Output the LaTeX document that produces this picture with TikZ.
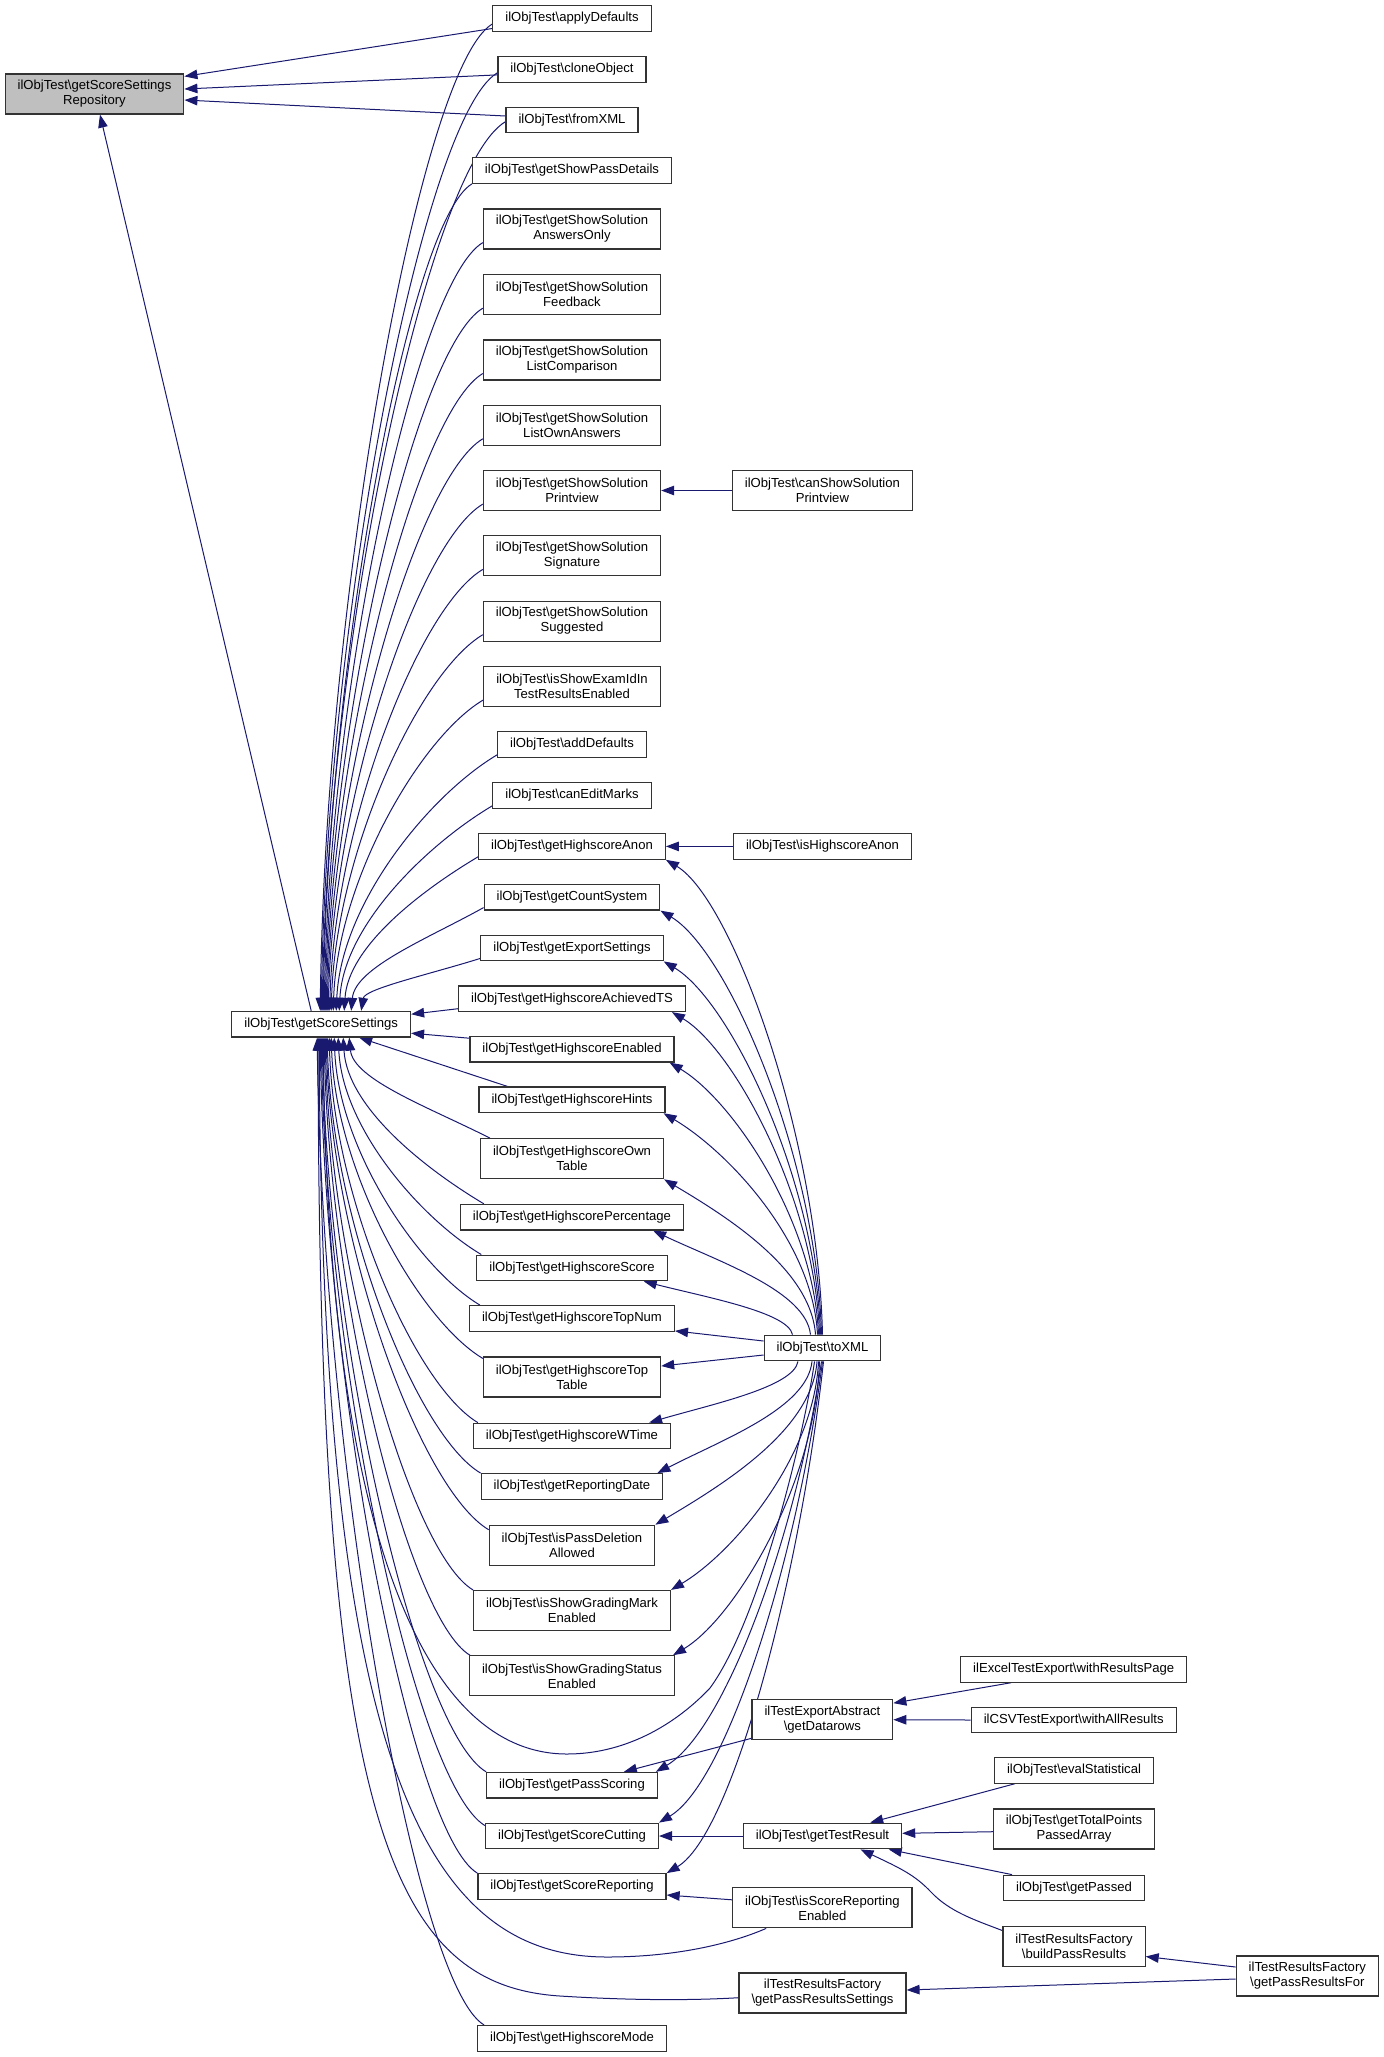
\documentclass[tikz,border=0pt]{standalone}
\usepackage{fontspec}
\setmainfont{Liberation Sans}
\usetikzlibrary{arrows.meta,calc,backgrounds}
\definecolor{edgeblue}{HTML}{191970}
\definecolor{repgray}{HTML}{BFBFBF}
\newcommand\BSL{\textbackslash}
\newcommand\cedge[4][0.03]{\draw[edge,#4] let \p1=(#2), \p2=(#3) in (\p1) .. controls ({\x1+#1*((\x2)-(\x1))},{\y1+0.42*((\y2)-(\y1))}) and ({\x2-0.42*((\x2)-(\x1))},{\y2-min(0.25*abs((\x2)-(\x1))/max(abs((\y2)-(\y1)),1),0.3)*((\y2)-(\y1))}) .. (\p2);}
\tikzset{
  box/.style={draw=black!80, line width=1.2pt, fill=white, inner xsep=12.5pt, inner ysep=2pt,
    minimum height=25.6pt, font=\fontsize{13.1}{15}\selectfont, align=center},
  box2/.style={box, minimum height=40pt},
  edge/.style={draw=edgeblue, line width=1pt},
  >={Triangle[length=13pt,width=9.5pt]}
}
\begin{document}
\begin{tikzpicture}[x=1pt,y=-1pt]
\useasboundingbox (0,0) rectangle (1384,2057);
% left
\node[box2,fill=repgray] (rep) at (94.5,94) {ilObjTest\BSL getScoreSettings\\Repository};
\node[box] (gs) at (321.2,1024.2) {ilObjTest\BSL getScoreSettings};
% column 2
\node[box]  (n1)  at (572,18.5)  {ilObjTest\BSL applyDefaults};
\node[box]  (n2)  at (572,69.4)  {ilObjTest\BSL cloneObject};
\node[box]  (n3)  at (572,120)   {ilObjTest\BSL fromXML};
\node[box]  (n4)  at (572,170.5) {ilObjTest\BSL getShowPassDetails};
\node[box2] (n5)  at (572,229)   {ilObjTest\BSL getShowSolution\\AnswersOnly};
\node[box2] (n6)  at (572,294.6) {ilObjTest\BSL getShowSolution\\Feedback};
\node[box2] (n7)  at (572,359.9) {ilObjTest\BSL getShowSolution\\ListComparison};
\node[box2] (n8)  at (572,425.2) {ilObjTest\BSL getShowSolution\\ListOwnAnswers};
\node[box2] (n9)  at (572,490.5) {ilObjTest\BSL getShowSolution\\Printview};
\node[box2] (n10) at (572,555.8) {ilObjTest\BSL getShowSolution\\Signature};
\node[box2] (n11) at (572,621.1) {ilObjTest\BSL getShowSolution\\Suggested};
\node[box2] (n12) at (572,686.4) {ilObjTest\BSL isShowExamIdIn\\TestResultsEnabled};
\node[box]  (n13) at (572,744.5) {ilObjTest\BSL addDefaults};
\node[box]  (n14) at (572,795.4) {ilObjTest\BSL canEditMarks};
\node[box]  (n15) at (572,846.4) {ilObjTest\BSL getHighscoreAnon};
\node[box]  (n16) at (572,897.2) {ilObjTest\BSL getCountSystem};
\node[box]  (n17) at (572,948)   {ilObjTest\BSL getExportSettings};
\node[box]  (n18) at (572,998.7) {ilObjTest\BSL getHighscoreAchievedTS};
\node[box]  (n19) at (572,1049.2){ilObjTest\BSL getHighscoreEnabled};
\node[box]  (n20) at (572,1099.8){ilObjTest\BSL getHighscoreHints};
\node[box2] (n21) at (572,1158.7){ilObjTest\BSL getHighscoreOwn\\Table};
\node[box]  (n22) at (572,1217.2){ilObjTest\BSL getHighscorePercentage};
\node[box]  (n23) at (572,1267.9){ilObjTest\BSL getHighscoreScore};
\node[box]  (n24) at (572,1318.5){ilObjTest\BSL getHighscoreTopNum};
\node[box2] (n25) at (572,1377)  {ilObjTest\BSL getHighscoreTop\\Table};
\node[box]  (n26) at (572,1436)  {ilObjTest\BSL getHighscoreWTime};
\node[box]  (n27) at (572,1486.5){ilObjTest\BSL getReportingDate};
\node[box2] (n28) at (572,1545.3){ilObjTest\BSL isPassDeletion\\Allowed};
\node[box2] (n29) at (572,1610.5){ilObjTest\BSL isShowGradingMark\\Enabled};
\node[box2] (n30) at (572,1675.8){ilObjTest\BSL isShowGradingStatus\\Enabled};
\node[box]  (n31) at (572,1785.2){ilObjTest\BSL getPassScoring};
\node[box]  (n32) at (572,1836)  {ilObjTest\BSL getScoreCutting};
\node[box]  (n33) at (572,1886.5){ilObjTest\BSL getScoreReporting};
\node[box]  (n34) at (572,2038.3){ilObjTest\BSL getHighscoreMode};
% column 3
\node[box2] (csp) at (822.4,490.5) {ilObjTest\BSL canShowSolution\\Printview};
\node[box]  (iha) at (822.5,846.4) {ilObjTest\BSL isHighscoreAnon};
\node[box]  (toxml) at (822.5,1348) {ilObjTest\BSL toXML};
\node[box2] (gdr) at (822.4,1719.7) {ilTestExportAbstract\\\BSL getDatarows};
\node[box]  (gtr) at (822.5,1836) {ilObjTest\BSL getTestResult};
\node[box2] (isr) at (822.4,1907.8) {ilObjTest\BSL isScoreReporting\\Enabled};
\node[box2] (prs) at (822.5,1993) {ilTestResultsFactory\\\BSL getPassResultsSettings};
% column 4
\node[box]  (wrp) at (1073.7,1669.3) {ilExcelTestExport\BSL withResultsPage};
\node[box]  (war) at (1073.7,1720) {ilCSVTestExport\BSL withAllResults};
\node[box]  (evs) at (1074,1770.3) {ilObjTest\BSL evalStatistical};
\node[box2] (gtp) at (1074,1829) {ilObjTest\BSL getTotalPoints\\PassedArray};
\node[box]  (gps) at (1074,1888) {ilObjTest\BSL getPassed};
\node[box2] (bpr) at (1074,1946.5) {ilTestResultsFactory\\\BSL buildPassResults};
% column 5
\node[box2] (prf) at (1307.3,1976) {ilTestResultsFactory\\\BSL getPassResultsFor};

\begin{pgfonlayer}{background}
% to repository
\draw[edge,<-] ($(rep.north east)+(0,3)$) -- ($(n1.west)+(0,10)$);
\draw[edge,<-] ($(rep.east)+(0,-5)$) -- ($(n2.west)+(0,5.5)$);
\draw[edge,<-] ($(rep.east)+(0,6)$) -- ($(n3.west)+(0,-4)$);
\draw[edge,<-] ($(rep.south)+(5.5,0)$) -- ($(gs.north)+(-10,0)$);
% upper callers of getScoreSettings
\cedge{$(gs.north)+(-1,0)$}{$(n1.west)+(0,5.5)$}{<-}
\cedge{$(gs.north)+(0,0)$}{$(n2.west)+(0,3.4)$}{<-}
\cedge{$(gs.north)+(1,0)$}{$(n3.west)+(0,1.7)$}{<-}
\cedge{$(gs.north)+(2,0)$}{n4.south west}{<-}
\cedge{$(gs.north)+(3,0)$}{$(n5.south west)+(0,-7)$}{<-}
\cedge{$(gs.north)+(4,0)$}{$(n6.south west)+(0,-7)$}{<-}
\cedge{$(gs.north)+(5,0)$}{$(n7.south west)+(0,-7)$}{<-}
\cedge{$(gs.north)+(6,0)$}{$(n8.south west)+(0,-7)$}{<-}
\cedge{$(gs.north)+(7,0)$}{$(n9.south west)+(0,-7)$}{<-}
\cedge{$(gs.north)+(8.5,0)$}{$(n10.south west)+(0,-7)$}{<-}
\cedge{$(gs.north)+(10,0)$}{$(n11.south west)+(0,-7)$}{<-}
\cedge{$(gs.north)+(12,0)$}{$(n12.south west)+(0,-7)$}{<-}
\cedge{$(gs.north)+(15,0)$}{$(n13.south west)+(0,-3)$}{<-}
\cedge{$(gs.north)+(18,0)$}{$(n14.south west)+(0,-3)$}{<-}
\cedge{$(gs.north)+(23,0)$}{$(n15.south west)+(0,-3)$}{<-}
\cedge{$(gs.north)+(30,0)$}{$(n16.south west)+(0,-3)$}{<-}
\cedge{$(gs.north)+(40,0)$}{$(n17.south west)+(0,-3)$}{<-}
\draw[edge,<-] ($(gs.east)+(0,-10)$) -- ($(n18.west)+(0,10)$);
\draw[edge,<-] ($(gs.east)+(0,9)$) -- ($(n19.west)+(0,-11)$);
% lower callers of getScoreSettings
\draw[edge,<-] ($(gs.south)+(38,0)$) -- ($(n20.north west)+(29,0)$);
\cedge{$(gs.south)+(28,0)$}{$(n21.north west)+(10,0)$}{<-}
\cedge{$(gs.south)+(22,0)$}{$(n22.north west)+(24,0)$}{<-}
\cedge{$(gs.south)+(17,0)$}{$(n23.north west)+(5,0)$}{<-}
\cedge{$(gs.south)+(13,0)$}{$(n24.north west)+(11,0)$}{<-}
\cedge{$(gs.south)+(10,0)$}{$(n25.north west)+(0,2)$}{<-}
\cedge{$(gs.south)+(8,0)$}{$(n26.north west)+(5,0)$}{<-}
\cedge{$(gs.south)+(6,0)$}{n27.north west}{<-}
\cedge{$(gs.south)+(5,0)$}{$(n28.north west)+(0,5)$}{<-}
\cedge{$(gs.south)+(4,0)$}{n29.north west}{<-}
\cedge{$(gs.south)+(3,0)$}{$(n30.north west)+(1,0)$}{<-}
\cedge{$(gs.south)+(1,0)$}{n31.north west}{<-}
\cedge{$(gs.south)+(0,0)$}{$(n32.north west)+(0,3)$}{<-}
\cedge{$(gs.south)+(-1,0)$}{n33.north west}{<-}
\cedge{$(gs.south)+(-4,0)$}{$(n34.north west)+(7,0)$}{<-}
\draw[edge,<-] ($(gs.south)+(2,0)$) .. controls (328,1520) and (420,1754) .. (567,1754)
  .. controls (630,1754) and (680,1720) .. (710,1688)
  .. controls (760,1620) and (805,1430) .. ($(toxml.south)+(-8,0)$);
\draw[edge,<-] ($(gs.south)+(-2,0)$) .. controls (322,1750) and (420,1957) .. (607,1957)
  .. controls (680,1957) and (735,1942) .. ($(isr.south west)+(34,0)$);
\draw[edge,<-] ($(gs.south)+(-3,0)$) .. controls (318,1820) and (390,1985) .. (560,1996)
  .. controls (640,2001) and (700,2000) .. ($(prs.west)+(0,4.7)$);
% toXML upper
\cedge{$(toxml.north)+(0,0)$}{n15.south east}{->}
\cedge{$(toxml.north)+(-1,0)$}{n16.south east}{->}
\cedge{$(toxml.north)+(-2,0)$}{n17.south east}{->}
\cedge{$(toxml.north)+(-3,0)$}{$(n18.south east)+(-14,0)$}{->}
\cedge{$(toxml.north)+(-4,0)$}{$(n19.south east)+(-5,0)$}{->}
\cedge{$(toxml.north)+(-5,0)$}{$(n20.south east)+(-2,0)$}{->}
\cedge{$(toxml.north)+(-7,0)$}{n21.south east}{->}
\cedge{$(toxml.north)+(-12,0)$}{$(n22.south east)+(-31,0)$}{->}
\cedge{$(toxml.north)+(-30,0)$}{$(n23.south east)+(-24,0)$}{->}
\draw[edge,->] ($(toxml.west)+(0,-7)$) -- ($(n24.south east)+(0,-1)$);
\draw[edge,->] ($(toxml.west)+(0,7)$) -- ($(n25.east)+(0,-11)$);
% toXML lower
\cedge{$(toxml.south)+(-24.5,0)$}{$(n26.north east)+(-22,0)$}{->}
\cedge{$(toxml.south)+(-10.5,0)$}{$(n27.north east)+(-6,0)$}{->}
\cedge{$(toxml.south)+(-5.5,0)$}{n28.north east}{->}
\cedge{$(toxml.south)+(-4,0)$}{n29.north east}{->}
\cedge{$(toxml.south)+(-3,0)$}{$(n30.north east)+(-2,0)$}{->}
\cedge[0.15]{$(toxml.south)+(-1,0)$}{$(n31.north east)+(-2,0)$}{->}
\cedge[0.15]{$(toxml.south)+(0,0)$}{n32.north east}{->}
\cedge[0.15]{$(toxml.south)+(1,0)$}{n33.north east}{->}
% others
\draw[edge,<-] (n9.east) -- (csp.west);
\draw[edge,<-] (n15.east) -- (iha.west);
\draw[edge,<-] ($(gdr.north east)+(0,4)$) -- ($(wrp.south west)+(51,0)$);
\draw[edge,<-] (gdr.east) -- (war.west);
\draw[edge,<-] ($(n31.north east)+(-34,0)$) -- ($(gdr.south west)+(0,-2)$);
\draw[edge,<-] (n32.east) -- (gtr.west);
\draw[edge,<-] ($(gtr.north east)+(-32,0)$) -- ($(evs.south west)+(21,0)$);
\draw[edge,<-] ($(gtr.east)+(0,-2.7)$) -- ($(gtp.west)+(0,2.7)$);
\draw[edge,<-] ($(gtr.south east)+(-13.5,0)$) -- ($(gps.north west)+(9,0)$);
\draw[edge,<-] ($(gtr.south)+(38,0)$) .. controls (900,1868) and (915,1875) .. (931,1892)
  .. controls (950,1912) and (975,1920) .. ($(bpr.west)+(0,-16)$);
\draw[edge,<-] ($(bpr.east)+(0,10)$) -- ($(prf.west)+(0,-9)$);
\draw[edge,<-] ($(prs.east)+(0,-3)$) -- ($(prf.west)+(0,3)$);
\draw[edge,<-] ($(n33.east)+(0,8.5)$) -- ($(isr.west)+(0,-8)$);
\end{pgfonlayer}
\end{tikzpicture}
\end{document}
